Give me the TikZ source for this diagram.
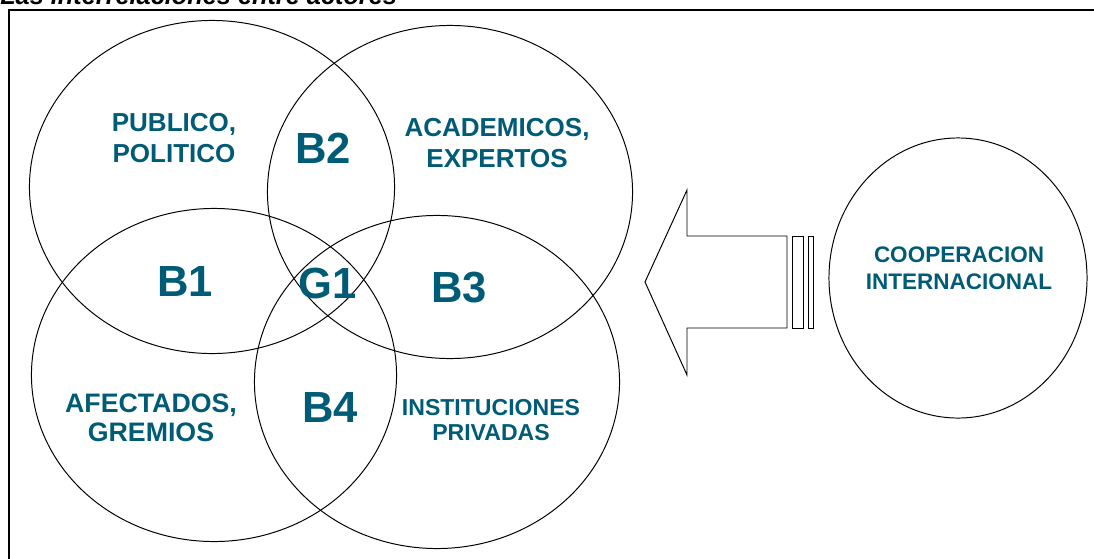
\documentclass[tikz,border=0pt]{standalone}
\usepackage{fontspec}
\setmainfont{Liberation Sans}
\usetikzlibrary{positioning, shapes.geometric}
\definecolor{actorblue}{RGB}{0,92,118}

\begin{document}
\begin{tikzpicture}[x=0.025cm, y=-0.025cm,
    group/.style={draw, ellipse, line width=0.7pt, minimum width=9.125cm, minimum height=8.325cm, inner sep=0pt},
    sector/.style={text=actorblue, align=center, inner sep=0pt, font=\bfseries\fontsize{18.5}{22}\selectfont},
    zone/.style={text=actorblue, inner sep=0pt, font=\bfseries\fontsize{31}{36}\selectfont}]
    \useasboundingbox (0,0) rectangle (1094,559);
    \node [anchor=base west, inner sep=0pt, font=\bfseries\itshape\fontsize{18}{22}\selectfont] (title) at (0,4) {Las interrelaciones entre actores};
    \draw [line width=1.4pt] (9,570) -- (9,10) -- (1100,10);
    \node [group] (pub) at (212,187) {};
    \node [group] (aca) at (450,192) {};
    \node [group] (afe) at (214,375) {};
    \node [group] (ins) at (437,382) {};
    \node [draw, ellipse, line width=0.7pt, minimum width=6.45cm, minimum height=7cm, inner sep=0pt] (coop) at (958,278) {};
    \node [sector] (pubtxt) at (174,138) {PUBLICO,\\POLITICO};
    \node [sector] (acatxt) at (497,143) {ACADEMICOS,\\EXPERTOS};
    \node [sector, font=\bfseries\fontsize{19}{20.6}\selectfont] (afetxt) at (151,418) {AFECTADOS,\\GREMIOS};
    \node [sector, font=\bfseries\fontsize{16.4}{17.8}\selectfont] (instxt) at (491,420) {INSTITUCIONES\\PRIVADAS};
    \node [sector, font=\bfseries\fontsize{16}{19}\selectfont] (cooptxt) at (959,268) {COOPERACION\\INTERNACIONAL};
    \node [zone] (b1) at (185,282) {B1};
    \node [zone] (b2) at (323,148) {B2};
    \node [zone] (g1) at (328,283) {G1};
    \node [zone] (b3) at (459,288) {B3};
    \node [zone] (b4) at (330,408) {B4};
    \draw [line width=0.7pt, line join=miter] (645,282) -- (687,190) -- (687,236) -- (787,236)
      -- (787,328) -- (687,328) -- (687,375) -- cycle;
    \draw [line width=0.7pt] (792,236) rectangle (803,328);
    \draw [line width=0.7pt] (808,236) rectangle (813,328);
\end{tikzpicture}
\end{document}
